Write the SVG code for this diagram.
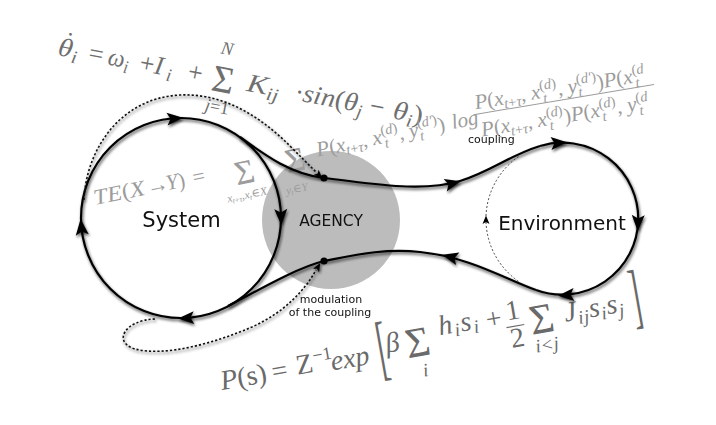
<svg xmlns="http://www.w3.org/2000/svg" xmlns:xlink="http://www.w3.org/1999/xlink" width="716" height="425" viewBox="0 0 716 425">
<style>
.m{font-family:"Liberation Serif","DejaVu Serif",serif}
.it{font-style:italic}
.f1{fill:#6f6f6f;font-size:26px}
.f2{fill:#9c9c9c;font-size:21px}
.f3{fill:#6a6a6a;font-size:28px}
.lbl{font-family:"DejaVu Sans","Liberation Sans",sans-serif;fill:#111}
.ln{fill:none;stroke:#000;stroke-width:2.2}
.dt{fill:none;stroke:#111;stroke-width:1.6;stroke-dasharray:2.2 2}
.ds{fill:none;stroke:#333;stroke-width:0.9;stroke-dasharray:2 2}
</style>
<defs>
<filter id="sh" filterUnits="userSpaceOnUse" x="0" y="0" width="716" height="425">
<feGaussianBlur in="SourceAlpha" stdDeviation="1.6"/>
<feOffset dx="1" dy="1.5"/>
<feComponentTransfer><feFuncA type="linear" slope="0.7"/></feComponentTransfer>
<feMerge><feMergeNode/><feMergeNode in="SourceGraphic"/></feMerge>
</filter>
<path id="ah" d="M9,0 L-7,-6.5 L-3.5,0 L-7,6.5 Z" fill="#000"/>
<path id="as" d="M4.5,0 L-4,-3.5 L-2,0 L-4,3.5 Z" fill="#000"/>
</defs>
<rect width="716" height="425" fill="#fff"/>

<g id="agency">
<circle cx="331" cy="220" r="69" fill="#bcbcbc"/>
</g>

<g id="formula-kuramoto" class="m f1" transform="translate(57,55) rotate(10.7)">
<text x="5" y="-7">˙</text>
<text x="0" y="0" textLength="20" lengthAdjust="spacingAndGlyphs"><tspan class="it">θ</tspan><tspan dy="5" font-size="18" class="it">i</tspan></text>
<text x="31" y="0">=</text>
<text x="51" y="0" textLength="21" lengthAdjust="spacingAndGlyphs"><tspan class="it">ω</tspan><tspan dy="5" font-size="18" class="it">i</tspan></text>
<text x="83" y="0">+</text>
<text x="98" y="0" textLength="18" lengthAdjust="spacing"><tspan class="it">I</tspan><tspan dy="5" font-size="18" class="it">i</tspan></text>
<text x="132" y="0">+</text>
<text x="168" y="6" font-size="38" text-anchor="middle">Σ</text>
<text x="166" y="-32" font-size="18" text-anchor="middle" class="it">N</text>
<text x="167" y="27" font-size="18" text-anchor="middle"><tspan class="it">j</tspan>=1</text>
<text x="192" y="0" textLength="33" lengthAdjust="spacingAndGlyphs"><tspan class="it">K</tspan><tspan dy="5" font-size="18" class="it">ij</tspan></text>
<text x="241" y="0">·</text>
<text x="249" y="0" textLength="61" lengthAdjust="spacingAndGlyphs"><tspan class="it">sin</tspan><tspan>(</tspan><tspan class="it">θ</tspan><tspan dy="5" font-size="18" class="it">j</tspan></text>
<text x="317" y="0">−</text>
<text x="341" y="0" textLength="30" lengthAdjust="spacingAndGlyphs"><tspan class="it">θ</tspan><tspan dy="5" font-size="18" class="it">i</tspan><tspan dy="-5">)</tspan></text>
</g>

<g id="formula-te" class="m f2" transform="translate(95,205) rotate(-11.5)">
<text x="0" y="0" font-size="22" textLength="52" lengthAdjust="spacingAndGlyphs"><tspan class="it">TE</tspan><tspan>(</tspan><tspan class="it">X</tspan></text>
<text x="54" y="0" font-size="22">→</text>
<text x="74" y="0" font-size="22" textLength="19" lengthAdjust="spacingAndGlyphs"><tspan class="it">Y</tspan><tspan>)</tspan></text>
<text x="101" y="0" font-size="22">=</text>
<text x="153" y="9" font-size="34" text-anchor="middle">Σ</text>
<text x="151" y="24" font-size="11.5" text-anchor="middle"><tspan class="it">x</tspan><tspan font-size="8" dy="2" class="it">t</tspan><tspan font-size="8">+</tspan><tspan font-size="8" class="it">τ</tspan><tspan dy="-2">,</tspan><tspan class="it">x</tspan><tspan font-size="8" dy="2" class="it">t</tspan><tspan dy="-2">∈</tspan><tspan class="it">X</tspan></text>
<text x="205" y="7" font-size="34" text-anchor="middle">Σ</text>
<text x="201" y="28" font-size="11.5" text-anchor="middle"><tspan class="it">y</tspan><tspan font-size="8" dy="2" class="it">t</tspan><tspan dy="-2">∈</tspan><tspan class="it">Y</tspan></text>
<text x="228" y="-3"><tspan class="it">P</tspan>(<tspan class="it">x</tspan><tspan font-size="14.5" dy="4" class="it">t</tspan><tspan font-size="14.5">+</tspan><tspan font-size="14.5" class="it">τ</tspan><tspan dy="-4">, </tspan><tspan class="it">x</tspan><tspan font-size="14.5" dy="-8">(</tspan><tspan font-size="14.5" class="it">d</tspan><tspan font-size="14.5">)</tspan><tspan font-size="14.5" class="it" dx="-15" dy="13">t</tspan><tspan dx="11.5" dy="-5">, </tspan><tspan class="it">y</tspan><tspan font-size="14.5" dy="-8">(</tspan><tspan font-size="14.5" class="it">d′</tspan><tspan font-size="14.5">)</tspan><tspan font-size="14.5" class="it" dx="-19.5" dy="13">t</tspan><tspan dx="15.5" dy="-5">)</tspan><tspan x="366" class="it">log</tspan></text>
<g transform="rotate(2 390 -15)">
<text x="392" y="-18"><tspan class="it">P</tspan>(<tspan class="it">x</tspan><tspan font-size="14.5" dy="4" class="it">t</tspan><tspan font-size="14.5">+</tspan><tspan font-size="14.5" class="it">τ</tspan><tspan dy="-4">, </tspan><tspan class="it">x</tspan><tspan font-size="14.5" dy="-8">(</tspan><tspan font-size="14.5" class="it">d</tspan><tspan font-size="14.5">)</tspan><tspan font-size="14.5" class="it" dx="-15" dy="13">t</tspan><tspan dx="11.5" dy="-5">, </tspan><tspan class="it">y</tspan><tspan font-size="14.5" dy="-8">(</tspan><tspan font-size="14.5" class="it">d′</tspan><tspan font-size="14.5">)</tspan><tspan font-size="14.5" class="it" dx="-19.5" dy="13">t</tspan><tspan dx="15.5" dy="-5">)</tspan><tspan class="it">P</tspan>(<tspan class="it">x</tspan><tspan font-size="14.5" dy="-8">(</tspan><tspan font-size="14.5" class="it">d</tspan><tspan font-size="14.5" class="it" dx="-10" dy="13">t</tspan></text>
<line x1="389" y1="-13" x2="572" y2="-13" stroke="#9c9c9c" stroke-width="1"/>
<text x="394" y="10"><tspan class="it">P</tspan>(<tspan class="it">x</tspan><tspan font-size="14.5" dy="4" class="it">t</tspan><tspan font-size="14.5">+</tspan><tspan font-size="14.5" class="it">τ</tspan><tspan dy="-4">, </tspan><tspan class="it">x</tspan><tspan font-size="14.5" dy="-8">(</tspan><tspan font-size="14.5" class="it">d</tspan><tspan font-size="14.5">)</tspan><tspan font-size="14.5" class="it" dx="-15" dy="13">t</tspan><tspan dx="11.5" dy="-5">)</tspan><tspan class="it">P</tspan>(<tspan class="it">x</tspan><tspan font-size="14.5" dy="-8">(</tspan><tspan font-size="14.5" class="it">d</tspan><tspan font-size="14.5">)</tspan><tspan font-size="14.5" class="it" dx="-15" dy="13">t</tspan><tspan dx="11.5" dy="-5">, </tspan><tspan class="it">y</tspan><tspan font-size="14.5" dy="-8">(</tspan><tspan font-size="14.5" class="it">d</tspan><tspan font-size="14.5" class="it" dx="-10" dy="13">t</tspan></text>
</g>
</g>

<g id="formula-ising" class="m f3" transform="translate(222,390) rotate(-10)">
<text><tspan x="0" y="0" class="it">P</tspan><tspan>(s)</tspan><tspan x="52" y="0">=</tspan><tspan x="77" y="-2">Z</tspan><tspan x="95" y="-12" font-size="18">−1</tspan><tspan x="112" y="0" class="it">exp</tspan><tspan x="169" y="-8" class="it">β</tspan><tspan x="272" y="-14">+</tspan></text>
<text x="224" y="-16" textLength="40" lengthAdjust="spacing"><tspan class="it">h</tspan><tspan font-size="19" dy="4" class="it">i</tspan><tspan dy="-4" class="it">s</tspan><tspan font-size="19" dy="4" class="it">i</tspan></text>
<text x="350" y="-7.5" textLength="60" lengthAdjust="spacing"><tspan class="it">J</tspan><tspan font-size="19" dy="4.5" class="it">ij</tspan><tspan dy="-4.5" class="it">s</tspan><tspan font-size="19" dy="4.5" class="it">i</tspan><tspan dy="-4.5" class="it">s</tspan><tspan font-size="19" dy="4.5" class="it">j</tspan></text>
<text x="201" y="1" font-size="42" text-anchor="middle">Σ</text>
<text x="204" y="22" font-size="19" text-anchor="middle" class="it">i</text>
<text x="300" y="-19" text-anchor="middle">1</text>
<line x1="291" y1="-12" x2="309" y2="-12" stroke="#6a6a6a" stroke-width="1.1"/>
<text x="300" y="9" text-anchor="middle">2</text>
<text x="327" y="-0.5" font-size="42" text-anchor="middle">Σ</text>
<text x="328" y="18" font-size="19" text-anchor="middle" class="it">i&lt;j</text>
<text transform="translate(160,10) scale(1,2.4)" font-size="30">[</text>
<text transform="translate(418,3) scale(1,2.4)" font-size="30">]</text>
</g>

<g id="system">
<circle class="ln" filter="url(#sh)" cx="181" cy="218" r="100"/>
</g>
<g id="environment">
<path class="ln" filter="url(#sh)" d="M540,146 A76,76 0 1 1 536,290"/>
<path class="ds" d="M518.4,281.3 A76,76 0 0 1 518.4,156.7"/>
</g>

<g id="connectors">
<path class="ln" filter="url(#sh)" d="M240,137 C265,155 290,174 324,178 C370,183 420,193 460,181 C490,172 510,155 540,146"/>
<path class="ln" filter="url(#sh)" d="M536,290 C505,279 470,257 420,252 C385,248 355,255 324,261 C295,268 250,295 228,306"/>
<path class="dt" filter="url(#sh)" d="M84,200 C86,150 120,98 180,95 C225,93 262,118 290,146 C300,156 308,164 316,172"/>
<path class="dt" filter="url(#sh)" d="M155,319 C125,320 112,342 135,349 C165,357 215,343 252,327 C285,312 305,290 316,270"/>
<g filter="url(#sh)">
<use xlink:href="#ah" transform="translate(174,118.5) rotate(-5)"/>
<use xlink:href="#ah" transform="translate(281,216) rotate(88)"/>
<use xlink:href="#ah" transform="translate(187,318) rotate(177)"/>
<use xlink:href="#ah" transform="translate(81.5,228) rotate(-96)"/>
<use xlink:href="#ah" transform="translate(452,183.5) rotate(-14)"/>
<use xlink:href="#ah" transform="translate(558,143) rotate(-4)"/>
<use xlink:href="#ah" transform="translate(638,222) rotate(92)"/>
<use xlink:href="#ah" transform="translate(567,295) rotate(176)"/>
<use xlink:href="#ah" transform="translate(451,257) rotate(195)"/>
<use xlink:href="#as" transform="translate(319,175) rotate(45)"/>
<use xlink:href="#as" transform="translate(318,267) rotate(-60)"/>
</g>
<use xlink:href="#as" transform="translate(486,220) rotate(-90)"/>
<circle cx="324" cy="178" r="3.6" fill="#000"/>
<circle cx="324" cy="261" r="3.6" fill="#000"/>
</g>

<g id="labels">
<text class="lbl" x="181.5" y="227" font-size="21" text-anchor="middle">System</text>
<text class="lbl" x="562" y="230" font-size="20" text-anchor="middle">Environment</text>
<text class="lbl" x="331" y="226" font-size="15.5" text-anchor="middle">AGENCY</text>
<text class="lbl" x="468" y="143" font-size="11">coupling</text>
<text class="lbl" x="331" y="303" font-size="11" text-anchor="middle">modulation</text>
<text class="lbl" x="330" y="316" font-size="11" text-anchor="middle">of the coupling</text>
</g>
</svg>
